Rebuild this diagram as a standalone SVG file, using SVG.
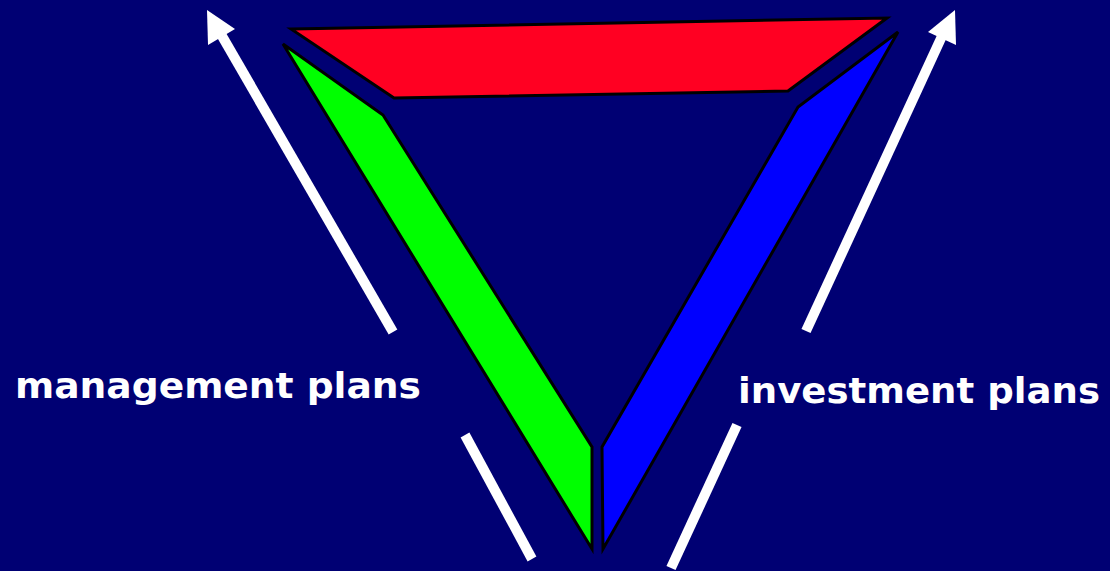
<svg xmlns="http://www.w3.org/2000/svg" width="1110" height="571" viewBox="0 0 1110 571">
<style>
.shape{stroke:#000;stroke-width:3;stroke-linejoin:miter}
.line{stroke:#fff;stroke-width:10;fill:none}
.head{fill:#fff}
.lbl{font-family:"DejaVu Sans","Liberation Sans",sans-serif;font-weight:bold;font-size:36px;fill:#fff}
</style>
<rect width="1110" height="571" fill="#000073"/>
<g id="red"><polygon class="shape" fill="#FF0022" points="291,29 887,18 788,91 394,98"/></g>
<g id="green"><polygon class="shape" fill="#00FF00" points="283,44 383,115 592,447 592,549"/></g>
<g id="blue"><polygon class="shape" fill="#0000FF" points="898,32 798,107 602,447 603,549"/></g>
<g id="connectors">
<line class="line" x1="393" y1="332" x2="222" y2="36"/>
<polygon class="head" points="207,10 208,45 235,29"/>
<line class="line" x1="806" y1="331" x2="943" y2="34"/>
<polygon class="head" points="955,10 928,32 956,45"/>
<line class="line" x1="465" y1="435" x2="532" y2="559"/>
<line class="line" x1="737" y1="425" x2="671" y2="568"/>
</g>
<g id="label-management"><text class="lbl" x="15" y="398" textLength="406" lengthAdjust="spacingAndGlyphs">management plans</text></g>
<g id="label-investment"><text class="lbl" x="738" y="403" textLength="362" lengthAdjust="spacingAndGlyphs">investment plans</text></g>
</svg>
